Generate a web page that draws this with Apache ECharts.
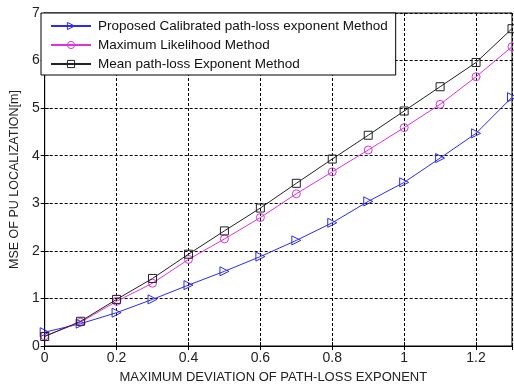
<!DOCTYPE html>
<html><head><meta charset="utf-8">
<script src="https://cdn.jsdelivr.net/npm/echarts@6/dist/echarts.min.js"></script>
<style>html,body{margin:0;padding:0;background:#fff}#c{width:514px;height:389px}</style>
</head><body><div id="c"></div>
<script>
const xValues = [0, 0.1, 0.2, 0.3, 0.4, 0.5, 0.6, 0.7, 0.8, 0.9, 1.0, 1.1, 1.2, 1.3];
const proposed = [0.29, 0.47, 0.70, 0.98, 1.28, 1.57, 1.88, 2.22, 2.59, 3.04, 3.44, 3.95, 4.47, 5.23];
const maxLikelihood = [0.21, 0.50, 0.94, 1.32, 1.82, 2.25, 2.70, 3.20, 3.66, 4.12, 4.59, 5.08, 5.66, 6.29];
const meanExponent = [0.20, 0.52, 0.98, 1.42, 1.93, 2.42, 2.90, 3.42, 3.93, 4.43, 4.94, 5.45, 5.96, 6.67];
const seriesNames = ['Proposed Calibrated path-loss exponent Method', 'Maximum Likelihood Method', 'Mean path-loss Exponent Method'];
const xTitle = 'MAXIMUM DEVIATION OF PATH-LOSS EXPONENT';
const yTitle = 'MSE OF PU LOCALIZATION[m]';

const pairs = ys => xValues.map((x, i) => [x, ys[i]]);
const font = 'Liberation Sans, Arial, sans-serif';
const gridLine = { show: true, lineStyle: { color: '#000', type: [3, 2], width: 1 } };
const colors = ['#2a2aff', '#dd33dd', '#222'];
const hollow = c => ({ color: 'rgba(0,0,0,0)', borderColor: c, borderWidth: 1 });

const chart = echarts.init(document.getElementById('c'), null, { renderer: 'canvas' });
chart.setOption({
  animation: false,
  backgroundColor: '#fff',
  grid: { left: 41, right: 2, top: 13, bottom: 39, show: true, borderColor: '#000', borderWidth: 1 },
  legend: {
    orient: 'vertical', left: 41, top: 13,
    padding: [6, 8, 4, 9], itemGap: 5, itemWidth: 40, itemHeight: 9,
    backgroundColor: '#fff', borderColor: '#000', borderWidth: 1, borderRadius: 0,
    textStyle: { fontFamily: font, fontSize: 13.5, color: '#111', padding: [0, 0, 0, 2] },
    data: seriesNames.map((n, i) => ({ name: n, itemStyle: hollow(colors[i]) }))
  },
  xAxis: [{
    type: 'value', min: 0, max: 1.3, interval: 0.2,
    name: xTitle, nameLocation: 'middle', nameGap: 25,
    nameTextStyle: { fontFamily: font, fontSize: 13, color: '#222', padding: [0, 10, 0, 0] },
    axisLine: { show: true, lineStyle: { color: '#000' } },
    axisTick: { show: true, inside: true, length: 4, lineStyle: { color: '#000' } },
    axisLabel: { fontFamily: font, fontSize: 14, color: '#222', margin: 5, showMaxLabel: false },
    splitLine: gridLine
  }, {
    type: 'value', position: 'top', min: 0, max: 1.3, interval: 0.2,
    axisLine: { show: true, lineStyle: { color: '#000' } },
    axisTick: { show: true, inside: true, length: 4, lineStyle: { color: '#000' } },
    axisLabel: { show: false }, splitLine: { show: false }
  }],
  yAxis: [{
    type: 'value', min: 0, max: 7, interval: 1,
    name: yTitle, nameLocation: 'middle', nameGap: 22,
    nameTextStyle: { fontFamily: font, fontSize: 12.5, color: '#222' },
    axisLine: { show: true, lineStyle: { color: '#000' } },
    axisTick: { show: true, inside: true, length: 4, lineStyle: { color: '#000' } },
    axisLabel: { fontFamily: font, fontSize: 14, color: '#222', margin: 5 },
    splitLine: gridLine
  }, {
    type: 'value', position: 'right', min: 0, max: 7, interval: 1,
    axisLine: { show: true, lineStyle: { color: '#000' } },
    axisTick: { show: true, inside: true, length: 4, lineStyle: { color: '#000' } },
    axisLabel: { show: false }, splitLine: { show: false }
  }],
  series: [{
    name: seriesNames[0], type: 'line', data: pairs(proposed),
    symbol: 'triangle', symbolSize: 9, symbolRotate: -90,
    itemStyle: hollow(colors[0]),
    lineStyle: { color: colors[0], width: 1 }, z: 3
  }, {
    name: seriesNames[1], type: 'line', data: pairs(maxLikelihood),
    symbol: 'circle', symbolSize: 8,
    itemStyle: hollow(colors[1]),
    lineStyle: { color: colors[1], width: 1 }, z: 4
  }, {
    name: seriesNames[2], type: 'line', data: pairs(meanExponent),
    symbol: 'rect', symbolSize: 8,
    itemStyle: hollow(colors[2]),
    lineStyle: { color: colors[2], width: 1 }, z: 5
  }]
});
</script></body></html>
